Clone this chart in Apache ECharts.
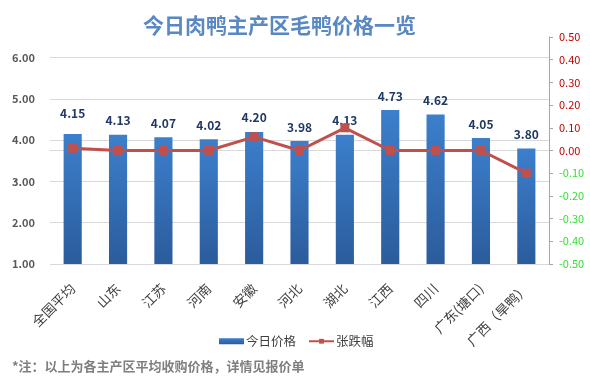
<!DOCTYPE html>
<html>
<head>
<meta charset="utf-8">
<script src="https://cdn.jsdelivr.net/npm/echarts@6/dist/echarts.min.js"></script>
<style>html,body{margin:0;padding:0;background:#fff;}#c{width:590px;height:392px;}</style>
</head>
<body>
<div id="c"></div>
<script>
var categories = ['全国平均', '山东', '江苏', '河南', '安徽', '河北', '湖北', '江西', '四川', '广东(塘口)', '广西（旱鸭）'];
var prices = [4.15, 4.13, 4.07, 4.02, 4.20, 3.98, 4.13, 4.73, 4.62, 4.05, 3.80];
var changes = [0.01, 0.00, 0.00, 0.00, 0.06, 0.00, 0.10, 0.00, 0.00, 0.00, -0.10];
var leftTicks = [1, 2, 3, 4, 5, 6];

var FONT = '"Noto Sans CJK SC", "Noto Sans", sans-serif';
var chart = echarts.init(document.getElementById('c'));

var barData = prices.map(function (v, i) {
  var item = { value: v };
  if (i === 0) item.label = { distance: 15 };
  return item;
});

chart.setOption({
  backgroundColor: '#ffffff',
  title: {
    text: '今日肉鸭主产区毛鸭价格一览',
    left: 138, top: 10,
    textStyle: { fontFamily: FONT, fontSize: 21, fontWeight: 'bold', color: '#5a88c2' }
  },
  graphic: [{
    type: 'text', left: 12, top: 360,
    style: { text: '*注：以上为各主产区平均收购价格，详情见报价单', fill: '#7f7f7f', font: 'bold 13px ' + FONT }
  }],
  legend: {
    left: 214, top: 330,
    itemGap: 12, itemWidth: 25, itemHeight: 6,
    textStyle: { fontFamily: FONT, fontSize: 12.5, color: '#404040', padding: [0, 0, 0, -3] },
    data: [{ name: '今日价格', icon: 'rect' }, { name: '张跌幅' }]
  },
  grid: { left: 50, right: 41, top: 37, bottom: 128 },
  xAxis: {
    type: 'category', data: categories,
    axisLine: { lineStyle: { color: '#d9d9d9', width: 1 } },
    axisTick: { show: false },
    axisLabel: { rotate: 45, interval: 0, fontFamily: FONT, fontSize: 13.5, color: '#404040', margin: 22 }
  },
  yAxis: [{
    type: 'value', min: 1, max: 6.5, interval: 1,
    axisLine: { show: false }, axisTick: { show: false },
    splitLine: { lineStyle: { color: '#d9d9d9' }, showMaxLine: false },
    axisLabel: {
      fontFamily: FONT, fontSize: 11, fontWeight: 'bold', color: '#595959', margin: 15,
      formatter: function (v) { return leftTicks.indexOf(Math.round(v * 100) / 100) >= 0 ? v.toFixed(2) : ''; }
    }
  }, {
    type: 'value', min: -0.5, max: 0.5, interval: 0.1, position: 'right',
    axisLine: { show: true, lineStyle: { color: '#a6a6a6' } },
    axisTick: { show: true, length: 4, lineStyle: { color: '#a6a6a6' } },
    splitLine: { show: false },
    axisLabel: {
      fontFamily: FONT, fontSize: 11, margin: 10,
      formatter: function (v) { return (Math.round(v * 100) / 100).toFixed(2); },
      color: function (v) { return parseFloat(v) < -0.001 ? '#33e033' : '#c00000'; }
    }
  }],
  series: [{
    name: '今日价格', type: 'bar', yAxisIndex: 0, barWidth: '40%',
    data: barData,
    itemStyle: {
      color: new echarts.graphic.LinearGradient(0, 0, 0, 1, [
        { offset: 0, color: '#3c7fcc' }, { offset: 1, color: '#2b5c9c' }
      ])
    },
    label: {
      show: true, position: 'top', distance: 8,
      fontFamily: FONT, fontSize: 12, fontWeight: 'bold', color: '#1f3864',
      formatter: function (p) { return p.value.toFixed(2); }
    }
  }, {
    name: '张跌幅', type: 'line', yAxisIndex: 1,
    data: changes,
    symbol: 'rect', symbolSize: 9,
    lineStyle: { color: '#c0504d', width: 3 },
    itemStyle: { color: '#c0504d' },
    z: 5
  }]
});
</script>
</body>
</html>
